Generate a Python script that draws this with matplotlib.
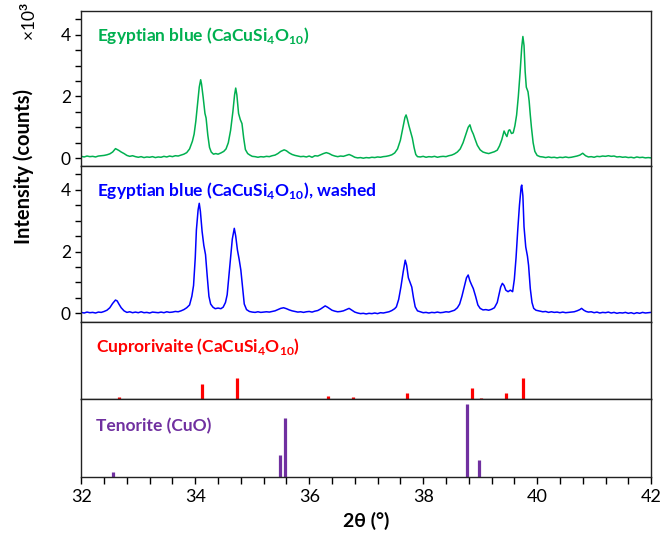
import matplotlib
matplotlib.use('Agg')
import matplotlib.pyplot as plt
from matplotlib.ticker import MultipleLocator, NullLocator

plt.rcParams['font.family'] = ['Lato', 'DejaVu Sans']
plt.rcParams['mathtext.fontset'] = 'custom'
plt.rcParams['mathtext.rm'] = 'Lato:bold'
plt.rcParams['mathtext.bf'] = 'Lato:bold'

# Egyptian blue, as made (counts x 10^3)
green_x = [32.00, 32.05, 32.10, 32.15, 32.20, 32.25, 32.30, 32.35, 32.40, 32.45,
           32.50, 32.55, 32.60, 32.63, 32.66, 32.70, 32.75, 32.80, 32.85, 32.90,
           32.95, 33.00, 33.05, 33.10, 33.15, 33.20, 33.25, 33.30, 33.35, 33.40,
           33.45, 33.50, 33.55, 33.60, 33.65, 33.70, 33.75, 33.80, 33.85, 33.90,
           33.95, 33.98, 34.01, 34.04, 34.07, 34.095, 34.11, 34.14, 34.17, 34.19,
           34.22, 34.25, 34.28, 34.32, 34.36, 34.40, 34.45, 34.50, 34.54, 34.58,
           34.62, 34.66, 34.69, 34.71, 34.73, 34.76, 34.79, 34.82, 34.85, 34.88,
           34.92, 34.96, 35.00, 35.05, 35.10, 35.15, 35.20, 35.25, 35.30, 35.35,
           35.40, 35.45, 35.50, 35.56, 35.60, 35.65, 35.70, 35.75, 35.80, 35.85,
           35.90, 35.95, 36.00, 36.05, 36.10, 36.15, 36.20, 36.25, 36.30, 36.35,
           36.40, 36.45, 36.50, 36.55, 36.60, 36.65, 36.70, 36.75, 36.80, 36.85,
           36.90, 36.95, 37.00, 37.05, 37.10, 37.15, 37.20, 37.25, 37.30, 37.35,
           37.40, 37.45, 37.50, 37.55, 37.60, 37.64, 37.68, 37.70, 37.72, 37.75,
           37.78, 37.81, 37.84, 37.87, 37.90, 37.95, 38.00, 38.05, 38.10, 38.15,
           38.20, 38.25, 38.30, 38.35, 38.40, 38.45, 38.50, 38.55, 38.60, 38.65,
           38.70, 38.75, 38.79, 38.82, 38.85, 38.88, 38.91, 38.95, 39.00, 39.05,
           39.10, 39.15, 39.20, 39.25, 39.30, 39.34, 39.38, 39.42, 39.45, 39.47,
           39.50, 39.52, 39.55, 39.58, 39.61, 39.64, 39.67, 39.70, 39.73, 39.75,
           39.77, 39.79, 39.81, 39.84, 39.86, 39.88, 39.90, 39.93, 39.96, 40.00,
           40.05, 40.10, 40.15, 40.20, 40.25, 40.30, 40.35, 40.40, 40.45, 40.50,
           40.55, 40.60, 40.65, 40.70, 40.75, 40.80, 40.85, 40.90, 40.95, 41.00,
           41.05, 41.10, 41.15, 41.20, 41.25, 41.30, 41.35, 41.40, 41.45, 41.50,
           41.55, 41.60, 41.65, 41.70, 41.75, 41.80, 41.85, 41.90, 41.95, 42.00]
green_y = [0.06, 0.04, 0.07, 0.05, 0.06, 0.04, 0.07, 0.08, 0.09, 0.11,
           0.14, 0.20, 0.31, 0.28, 0.25, 0.20, 0.15, 0.09, 0.06, 0.08,
           0.05, 0.03, 0.05, 0.02, 0.04, 0.03, 0.05, 0.02, 0.04, 0.03,
           0.06, 0.04, 0.07, 0.05, 0.08, 0.07, 0.10, 0.13, 0.18, 0.30,
           0.55, 0.78, 1.20, 1.75, 2.30, 2.54, 2.40, 1.95, 1.45, 1.30,
           0.75, 0.35, 0.20, 0.13, 0.15, 0.13, 0.17, 0.22, 0.30, 0.50,
           0.90, 1.50, 2.05, 2.27, 2.05, 1.45, 1.25, 1.12, 0.65, 0.28,
           0.15, 0.10, 0.06, 0.05, 0.03, 0.05, 0.04, 0.06, 0.05, 0.08,
           0.10, 0.15, 0.22, 0.27, 0.24, 0.17, 0.12, 0.09, 0.07, 0.05,
           0.06, 0.04, 0.07, 0.03, 0.08, 0.07, 0.11, 0.15, 0.18, 0.15,
           0.10, 0.07, 0.05, 0.07, 0.06, 0.09, 0.12, 0.08, 0.03, 0.01,
           0.02, 0.00, 0.02, 0.01, 0.03, 0.02, 0.04, 0.03, 0.05, 0.06,
           0.08, 0.11, 0.17, 0.30, 0.58, 0.95, 1.32, 1.40, 1.28, 1.05,
           0.85, 0.65, 0.35, 0.12, 0.05, 0.04, 0.06, 0.03, 0.05, 0.04,
           0.06, 0.03, 0.05, 0.06, 0.05, 0.08, 0.10, 0.14, 0.20, 0.30,
           0.50, 0.78, 1.00, 1.08, 0.90, 0.78, 0.62, 0.42, 0.27, 0.20,
           0.17, 0.15, 0.18, 0.21, 0.26, 0.40, 0.60, 0.88, 0.76, 0.70,
           0.90, 0.92, 0.80, 0.82, 1.05, 1.40, 2.00, 2.75, 3.60, 3.94,
           3.65, 2.80, 2.30, 2.15, 1.85, 1.40, 1.00, 0.50, 0.22, 0.09,
           0.05, 0.04, 0.02, 0.04, 0.02, 0.03, 0.01, 0.03, 0.02, 0.04,
           0.02, 0.03, 0.05, 0.07, 0.10, 0.16, 0.08, 0.04, 0.05, 0.03,
           0.06, 0.05, 0.07, 0.06, 0.08, 0.06, 0.07, 0.04, 0.05, 0.03,
           0.04, 0.02, 0.03, 0.01, 0.04, 0.02, 0.03, 0.01, 0.02, 0.01]

# Egyptian blue, washed (counts x 10^3)
blue_x = [32.00, 32.05, 32.10, 32.15, 32.20, 32.25, 32.30, 32.35, 32.40, 32.45,
          32.50, 32.55, 32.60, 32.63, 32.66, 32.70, 32.75, 32.80, 32.85, 32.90,
          32.95, 33.00, 33.05, 33.10, 33.15, 33.20, 33.25, 33.30, 33.35, 33.40,
          33.45, 33.50, 33.55, 33.60, 33.65, 33.70, 33.75, 33.80, 33.85, 33.90,
          33.94, 33.97, 34.00, 34.02, 34.05, 34.07, 34.09, 34.12, 34.15, 34.18,
          34.21, 34.24, 34.27, 34.31, 34.35, 34.40, 34.45, 34.49, 34.53, 34.56,
          34.59, 34.62, 34.65, 34.685, 34.71, 34.74, 34.77, 34.80, 34.83, 34.86,
          34.90, 34.95, 35.00, 35.05, 35.10, 35.15, 35.20, 35.25, 35.30, 35.35,
          35.40, 35.45, 35.50, 35.55, 35.60, 35.65, 35.70, 35.75, 35.80, 35.85,
          35.90, 35.95, 36.00, 36.05, 36.10, 36.15, 36.20, 36.25, 36.28, 36.32,
          36.36, 36.40, 36.45, 36.50, 36.55, 36.60, 36.65, 36.70, 36.75, 36.80,
          36.85, 36.90, 36.95, 37.00, 37.05, 37.10, 37.15, 37.20, 37.25, 37.30,
          37.35, 37.40, 37.45, 37.50, 37.53, 37.57, 37.61, 37.65, 37.685, 37.71,
          37.74, 37.77, 37.80, 37.83, 37.86, 37.90, 37.95, 38.00, 38.05, 38.10,
          38.15, 38.20, 38.25, 38.30, 38.35, 38.40, 38.45, 38.50, 38.55, 38.60,
          38.64, 38.68, 38.72, 38.76, 38.79, 38.82, 38.85, 38.88, 38.92, 38.96,
          39.00, 39.05, 39.10, 39.15, 39.20, 39.25, 39.30, 39.33, 39.36, 39.39,
          39.42, 39.45, 39.49, 39.53, 39.57, 39.60, 39.63, 39.66, 39.69, 39.72,
          39.73, 39.75, 39.77, 39.80, 39.83, 39.85, 39.88, 39.91, 39.94, 39.98,
          40.05, 40.10, 40.15, 40.20, 40.25, 40.30, 40.35, 40.40, 40.45, 40.50,
          40.55, 40.60, 40.65, 40.70, 40.75, 40.78, 40.82, 40.86, 40.90, 40.95,
          41.00, 41.05, 41.10, 41.15, 41.20, 41.25, 41.30, 41.35, 41.40, 41.45,
          41.50, 41.55, 41.60, 41.65, 41.70, 41.75, 41.80, 41.85, 41.90, 41.95,
          42.00]
blue_y = [0.03, 0.01, 0.04, 0.02, 0.03, 0.01, 0.04, 0.03, 0.06, 0.10,
          0.18, 0.32, 0.43, 0.40, 0.30, 0.18, 0.08, 0.03, 0.05, 0.02,
          0.04, 0.02, 0.05, 0.02, 0.03, 0.01, 0.04, 0.03, 0.02, 0.04,
          0.02, 0.05, 0.03, 0.04, 0.06, 0.05, 0.08, 0.12, 0.18, 0.27,
          0.55, 0.90, 1.80, 2.70, 3.35, 3.56, 3.30, 2.65, 2.20, 1.90,
          1.20, 0.55, 0.30, 0.20, 0.15, 0.17, 0.15, 0.20, 0.35, 0.60,
          1.20, 1.83, 2.40, 2.75, 2.50, 2.05, 1.75, 1.40, 0.85, 0.30,
          0.12, 0.06, 0.04, 0.03, 0.05, 0.03, 0.04, 0.05, 0.04, 0.06,
          0.08, 0.12, 0.16, 0.18, 0.15, 0.11, 0.08, 0.06, 0.04, 0.05,
          0.03, 0.05, 0.06, 0.04, 0.07, 0.09, 0.14, 0.20, 0.24, 0.20,
          0.15, 0.10, 0.07, 0.05, 0.06, 0.08, 0.12, 0.16, 0.10, 0.04,
          0.01, -0.01, 0.00, -0.02, 0.00, -0.01, 0.01, -0.01, 0.02, 0.01,
          0.03, 0.05, 0.09, 0.15, 0.21, 0.45, 0.86, 1.35, 1.72, 1.55,
          1.15, 1.00, 0.85, 0.50, 0.21, 0.08, 0.05, 0.02, 0.03, 0.01,
          0.03, 0.02, 0.04, 0.02, 0.03, 0.05, 0.04, 0.07, 0.10, 0.18,
          0.30, 0.55, 0.85, 1.15, 1.24, 1.05, 0.92, 0.80, 0.55, 0.27,
          0.16, 0.11, 0.12, 0.10, 0.13, 0.18, 0.35, 0.60, 0.85, 0.97,
          0.90, 0.75, 0.70, 0.75, 0.70, 1.10, 1.80, 2.70, 3.50, 4.10,
          4.15, 3.80, 2.80, 2.15, 1.85, 1.55, 0.80, 0.35, 0.16, 0.10,
          0.07, 0.05, 0.06, 0.03, 0.05, 0.03, 0.04, 0.02, 0.04, 0.02,
          0.03, 0.04, 0.05, 0.08, 0.12, 0.16, 0.10, 0.06, 0.04, 0.05,
          0.02, 0.04, 0.01, 0.03, 0.02, 0.04, 0.01, 0.03, 0.00, 0.02,
          0.01, 0.03, 0.00, 0.02, -0.01, 0.02, 0.00, 0.03, 0.01, 0.02,
          0.03]

# reference sticks (relative intensity)
cupro_pos = [32.67, 34.12, 34.74, 36.33, 36.77, 37.72, 38.86, 39.01, 39.46, 39.75]
cupro_int = [10, 71, 100, 14, 10, 29, 52, 5, 29, 100]
teno_pos = [32.56, 35.49, 35.58, 38.77, 38.98]
teno_int = [7, 30, 81, 100, 23]

c_green = '#00B050'
c_blue = '#0000FF'
c_red = '#FF0000'
c_purple = '#7030A0'

fig, axes = plt.subplots(4, 1, sharex=True, figsize=(6.61, 5.43), dpi=100,
                         gridspec_kw={'height_ratios': [155, 156, 77, 78]})
fig.subplots_adjust(left=0.123, right=0.985, bottom=0.1215, top=0.98, hspace=0)
ax1, ax2, ax3, ax4 = axes

ax1.plot(green_x, green_y, color=c_green, lw=1.1)
ax2.plot(blue_x, blue_y, color=c_blue, lw=1.1)
ax3.vlines(cupro_pos, 0, cupro_int, color=c_red, lw=2.3)
ax4.vlines(teno_pos, 0, teno_int, color=c_purple, lw=2.3)

ax1.set_ylim(-0.25, 4.77)
ax2.set_ylim(-0.28, 4.77)
ax3.set_ylim(0, 367)
ax4.set_ylim(0, 107)
ax4.set_xlim(32, 42)

for ax in axes:
    for s in ax.spines.values():
        s.set_linewidth(1.0)
        s.set_color('#222222')
    ax.tick_params(axis='x', which='both', bottom=False, labelbottom=False)

for ax in (ax1, ax2):
    ax.yaxis.set_major_locator(MultipleLocator(2))
    ax.yaxis.set_minor_locator(MultipleLocator(0.5))
    ax.tick_params(axis='y', which='both', direction='out', length=4, width=1,
                   labelsize=12.5)
    ax.set_yticks([0, 2, 4])

for ax in (ax3, ax4):
    ax.yaxis.set_major_locator(NullLocator())
    ax.yaxis.set_minor_locator(NullLocator())

ax4.xaxis.set_major_locator(MultipleLocator(2))
ax4.xaxis.set_minor_locator(MultipleLocator(0.4))
ax4.tick_params(axis='x', which='both', bottom=True, labelbottom=True,
                direction='out', length=5, width=1, labelsize=13)

lab = dict(fontsize=12.5, fontweight='bold', va='center', ha='left')
ax1.text(0.028, 0.84, r'Egyptian blue (CaCuSi$_4$O$_{10}$)', color=c_green,
         transform=ax1.transAxes, **lab)
ax2.text(0.027, 0.84, r'Egyptian blue (CaCuSi$_4$O$_{10}$), washed', color=c_blue,
         transform=ax2.transAxes, **lab)
ax3.text(0.026, 0.68, r'Cuprorivaite (CaCuSi$_4$O$_{10}$)', color=c_red,
         transform=ax3.transAxes, **lab)
ax4.text(0.026, 0.65, 'Tenorite (CuO)', color=c_purple,
         transform=ax4.transAxes, **lab)

fig.text(0.036, 1 - 166 / 543, 'Intensity (counts)', rotation=90, fontsize=14.5,
         fontweight='bold', ha='center', va='center')
fig.text(0.044, 1 - 22 / 543, r'×10$^3$', rotation=90, fontsize=12.5,
         ha='center', va='center')
ax4.set_xlabel('2θ (°)', fontsize=14, fontweight='bold', labelpad=5)

fig.savefig('out.png', dpi=100)
